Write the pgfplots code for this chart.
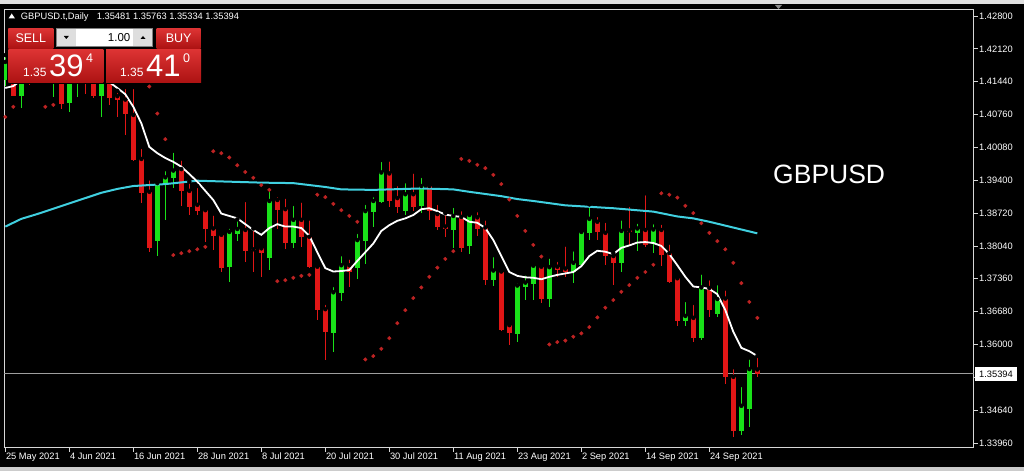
\documentclass[border=0pt]{standalone}
\usepackage{pgfplots}
\pgfplotsset{compat=1.18}
\usepackage{pgfplotstable}
\usepackage{fontspec}
\setmainfont{Liberation Sans}

\definecolor{bull}{RGB}{25,225,25}
\definecolor{bear}{RGB}{225,22,22}
\definecolor{sar}{RGB}{190,35,35}
\definecolor{macyan}{RGB}{64,208,224}
\definecolor{framec}{RGB}{215,215,215}
\definecolor{btntop}{RGB}{222,52,52}
\definecolor{btnbot}{RGB}{172,18,18}
\definecolor{ctrlgray}{RGB}{222,222,222}

% bearish candles: index, open, high, low, close
\pgfplotstableread{
i o h l c
1 1.4168 1.4189 1.4114 1.4115
3 1.4189 1.4214 1.4137 1.4158
5 1.4199 1.4241 1.4147 1.4168
7 1.4220 1.4241 1.4087 1.4098
10 1.4185 1.4210 1.4118 1.4152
11 1.4158 1.4178 1.4110 1.4115
13 1.4164 1.4185 1.4096 1.4110
14 1.4114 1.4125 1.4070 1.4106
15 1.4107 1.4133 1.4034 1.4077
16 1.4075 1.4133 1.3980 1.3982
17 1.3984 1.4009 1.3893 1.3914
18 1.3916 1.3944 1.3792 1.3799
22 1.3963 1.3985 1.3887 1.3918
23 1.3918 1.3937 1.3868 1.3885
24 1.3889 1.3928 1.3868 1.3877
25 1.3878 1.3882 1.3813 1.3839
26 1.3840 1.3871 1.3796 1.3825
27 1.3827 1.3831 1.3751 1.3759
30 1.3837 1.3899 1.3771 1.3794
31 1.3797 1.3840 1.3751 1.3795
32 1.3799 1.3802 1.3740 1.3789
34 1.3899 1.3909 1.3838 1.3878
35 1.3880 1.3906 1.3797 1.3809
37 1.3858 1.3898 1.3802 1.3823
38 1.3823 1.3861 1.3758 1.3761
39 1.3761 1.3764 1.3651 1.3671
40 1.3673 1.3686 1.3568 1.3626
43 1.3764 1.3780 1.3718 1.3751
48 1.3954 1.3983 1.3885 1.3896
49 1.3903 1.3932 1.3872 1.3884
51 1.3911 1.3958 1.3877 1.3885
53 1.3928 1.3932 1.3858 1.3877
54 1.3870 1.3893 1.3837 1.3843
55 1.3844 1.3872 1.3823 1.3839
57 1.3864 1.3880 1.3792 1.3799
59 1.3863 1.3878 1.3824 1.3839
60 1.3842 1.3861 1.3723 1.3733
62 1.3751 1.3758 1.3627 1.3629
63 1.3640 1.3644 1.3599 1.3623
67 1.3761 1.3769 1.3686 1.3695
69 1.3761 1.3775 1.3740 1.3754
70 1.3757 1.3807 1.3740 1.3751
74 1.3854 1.3868 1.3816 1.3833
75 1.3831 1.3856 1.3764 1.3783
76 1.3783 1.3789 1.3723 1.3768
78 1.3836 1.3889 1.3804 1.3832
80 1.3837 1.3913 1.3802 1.3805
82 1.3837 1.3852 1.3763 1.3786
83 1.3789 1.3811 1.3727 1.3730
84 1.3737 1.3744 1.3638 1.3649
86 1.3655 1.3686 1.3606 1.3614
88 1.3717 1.3737 1.3656 1.3671
90 1.3695 1.3716 1.3518 1.3532
91 1.3533 1.3553 1.3408 1.3421
94 1.35481 1.35763 1.35334 1.35394
}\beartab

% bullish candles: index, open, high, low, close
\pgfplotstableread{
i o h l c
0 1.4147 1.4199 1.4135 1.4185
2 1.4115 1.4193 1.4090 1.4172
4 1.4158 1.4230 1.4143 1.4199
6 1.4147 1.4251 1.4112 1.4220
8 1.4099 1.4189 1.4082 1.4168
9 1.4147 1.4205 1.4112 1.4178
12 1.4115 1.4189 1.4071 1.4164
19 1.3814 1.3937 1.3784 1.3934
20 1.3932 1.3963 1.3858 1.3946
21 1.3945 1.4001 1.3923 1.3960
28 1.3761 1.3844 1.3730 1.3833
29 1.3829 1.3859 1.3814 1.3839
33 1.3780 1.3920 1.3754 1.3897
36 1.3809 1.3891 1.3799 1.3858
41 1.3623 1.3723 1.3585 1.3708
42 1.3706 1.3787 1.3689 1.3764
44 1.3758 1.3833 1.3735 1.3816
45 1.3814 1.3893 1.3766 1.3876
46 1.3875 1.3909 1.3844 1.3897
47 1.3895 1.3982 1.3892 1.3956
50 1.3877 1.3938 1.3867 1.3911
52 1.3887 1.3949 1.3872 1.3928
56 1.3837 1.3887 1.3799 1.3866
58 1.3804 1.3875 1.3787 1.3868
61 1.3733 1.3785 1.3721 1.3753
64 1.3622 1.3731 1.3606 1.3722
65 1.3718 1.3747 1.3691 1.3728
66 1.3725 1.3769 1.3693 1.3763
68 1.3694 1.3782 1.3678 1.3760
71 1.3751 1.3797 1.3728 1.3769
72 1.3764 1.3840 1.3763 1.3833
73 1.3831 1.3890 1.3816 1.3860
77 1.3768 1.3861 1.3751 1.3835
79 1.3830 1.3854 1.3794 1.3840
81 1.3807 1.3853 1.3790 1.3838
85 1.3649 1.3692 1.3638 1.3659
87 1.3613 1.3749 1.3609 1.3718
89 1.3664 1.3727 1.3656 1.3694
92 1.3421 1.3516 1.3413 1.3473
93 1.3466 1.3573 1.3430 1.3549
}\bulltab

% Parabolic SAR
\pgfplotstableread{
i v
0 1.4071
1 1.4092
2 1.4251
3 1.4248
4 1.4245
5 1.4092
6 1.4096
7 1.4251
8 1.4248
9 1.4244
10 1.4240
11 1.4235
12 1.4229
13 1.4222
14 1.4213
15 1.4203
16 1.4190
17 1.4170
18 1.4134
19 1.4078
20 1.4025
21 1.3785
22 1.3789
23 1.3793
24 1.3797
25 1.3802
26 1.4000
27 1.3996
28 1.3987
29 1.3971
30 1.3957
31 1.3945
32 1.3930
33 1.3920
34 1.3731
35 1.3733
36 1.3738
37 1.3742
38 1.3744
39 1.3910
40 1.3905
41 1.3891
42 1.3878
43 1.3866
44 1.3854
45 1.3569
46 1.3576
47 1.3591
48 1.3613
49 1.3644
50 1.3671
51 1.3696
52 1.3718
53 1.3740
54 1.3759
55 1.3777
56 1.3793
57 1.3984
58 1.3980
59 1.3972
60 1.3965
61 1.3951
62 1.3932
63 1.3900
64 1.3866
65 1.3835
66 1.3806
67 1.3782
68 1.3600
69 1.3605
70 1.3608
71 1.3616
72 1.3623
73 1.3636
74 1.3656
75 1.3676
76 1.3692
77 1.3709
78 1.3723
79 1.3738
80 1.3750
81 1.3765
82 1.3913
83 1.3910
84 1.3904
85 1.3887
86 1.3872
87 1.3851
88 1.3831
89 1.3814
90 1.3797
91 1.3769
92 1.3727
93 1.3688
94 1.3655
}\sartab

% short moving average (white)
\pgfplotstableread{
i v
0 1.4131
1 1.4135
2 1.4147
3 1.4154
4 1.4160
5 1.4164
6 1.4168
7 1.4168
8 1.4168
9 1.4166
10 1.4164
11 1.4162
12 1.4156
13 1.4143
14 1.4131
15 1.4118
16 1.4092
17 1.4058
18 1.4009
19 1.3996
20 1.3986
21 1.3978
22 1.3968
23 1.3953
24 1.3937
25 1.3918
26 1.3899
27 1.3871
28 1.3866
29 1.3861
30 1.3849
31 1.3837
32 1.3827
33 1.3841
34 1.3849
35 1.3844
36 1.3844
37 1.3841
38 1.3825
39 1.3791
40 1.3758
41 1.3751
42 1.3752
43 1.3754
44 1.3773
45 1.3791
46 1.3809
47 1.3835
48 1.3847
49 1.3856
50 1.3861
51 1.3868
52 1.3880
53 1.3882
54 1.3876
55 1.3869
56 1.3866
57 1.3864
58 1.3854
59 1.3852
60 1.3841
61 1.3816
62 1.3783
63 1.3750
64 1.3742
65 1.3739
66 1.3738
67 1.3735
68 1.3740
69 1.3744
70 1.3747
71 1.3750
72 1.3762
73 1.3783
74 1.3794
75 1.3792
76 1.3787
77 1.3800
78 1.3805
79 1.3811
80 1.3812
81 1.3810
82 1.3804
83 1.3787
84 1.3764
85 1.3740
86 1.3720
87 1.3718
88 1.3715
89 1.3704
90 1.3671
91 1.3626
92 1.3593
93 1.3586
94 1.3576
}\matab

% long moving average (cyan)
\pgfplotstableread{
i v
0 1.3844
2 1.3860
4 1.3870
6 1.3881
8 1.3892
10 1.3903
12 1.3914
14 1.3922
16 1.3928
18 1.3930
20 1.3932
24 1.3939
28 1.3937
32 1.3935
36 1.3934
40 1.3926
42 1.3921
46 1.3920
52 1.3923
56 1.3921
58 1.3916
62 1.3907
64 1.3901
66 1.3897
70 1.3888
76 1.3882
81 1.3875
84 1.3865
86 1.3861
88 1.3854
91 1.3842
94 1.3830
}\lmatab

\newcommand{\tickfont}{\fontsize{9.3}{11}\selectfont}

\begin{document}
\begin{tikzpicture}
\useasboundingbox (0pt,0pt) rectangle (1024pt,471pt);
\fill[black] (0pt,0pt) rectangle (1024pt,471pt);
\fill[black!12] (0pt,466.5pt) rectangle (1024pt,471pt);
\fill[black!20] (0pt,0pt) rectangle (1024pt,4pt);

\begin{axis}[
  at={(4pt,23.5pt)}, anchor=south west,
  scale only axis, width=969.5pt, height=438.2pt,
  xmin=-0.1625, xmax=121.02,
  ymin=1.338667, ymax=1.429387,
  axis line style={framec, line width=0.8pt},
  tick align=outside, major tick length=4pt,
  tick style={framec, line width=0.7pt},
  xtick pos=left, ytick pos=right,
  yticklabel pos=right,
  xtick={0,8,16,24,32,40,48,56,64,72,80,88},
  xticklabels={25 May 2021,4 Jun 2021,16 Jun 2021,28 Jun 2021,8 Jul 2021,20 Jul 2021,30 Jul 2021,11 Aug 2021,23 Aug 2021,2 Sep 2021,14 Sep 2021,24 Sep 2021},
  ytick={1.3396,1.3464,1.3532,1.36,1.3668,1.3736,1.3804,1.3872,1.394,1.4008,1.4076,1.4144,1.4212,1.428},
  yticklabels={1.33960,1.34640,1.35320,1.36000,1.36680,1.37360,1.38040,1.38720,1.39400,1.40080,1.40760,1.41440,1.42120,1.42800},
  xticklabel style={anchor=north west, inner sep=0pt, xshift=0.5pt, yshift=-1pt, text=white, font=\tickfont},
  yticklabel style={anchor=west, inner sep=0pt, xshift=1.5pt, text=white, font=\tickfont},
  /pgf/number format/assume math mode=true,
  clip=true,
]
% bid line
\addplot[line width=0.6pt, color=black!38] coordinates {(-1,1.35394) (122,1.35394)};

% wicks
\addplot[only marks, mark=none, forget plot,
  error bars/.cd, y dir=minus, y explicit, error mark=none,
  error bar style={draw=bear, line width=1pt}]
  table[x=i, y=h, y error minus expr=\thisrow{h}-\thisrow{l}] {\beartab};
\addplot[only marks, mark=none, forget plot,
  error bars/.cd, y dir=minus, y explicit, error mark=none,
  error bar style={draw=bull, line width=1pt}]
  table[x=i, y=h, y error minus expr=\thisrow{h}-\thisrow{l}] {\bulltab};
% bodies
\addplot[only marks, mark=none, forget plot,
  error bars/.cd, y dir=minus, y explicit, error mark=none,
  error bar style={draw=bear, line width=5.5pt}]
  table[x=i, y=o, y error minus expr=\thisrow{o}-\thisrow{c}] {\beartab};
\addplot[only marks, mark=none, forget plot,
  error bars/.cd, y dir=minus, y explicit, error mark=none,
  error bar style={draw=bull, line width=5.5pt}]
  table[x=i, y=c, y error minus expr=\thisrow{c}-\thisrow{o}] {\bulltab};

% parabolic SAR
\addplot[only marks, mark=*, mark size=1.8pt, color=sar] table[x=i, y=v] {\sartab};
% moving averages
\addplot[no marks, color=macyan, line width=2pt] table[x=i, y=v] {\lmatab};
\addplot[no marks, color=white, line width=1.8pt] table[x=i, y=v] {\matab};
\end{axis}

% current price label
\fill[white] (975pt,90pt) rectangle (1017pt,104pt);
\node[anchor=center, inner sep=0pt, text=black, font=\tickfont] at (996pt,97pt) {1.35394};

% shift marker
\fill[black!45] (775pt,466pt) -- (782pt,466pt) -- (778.5pt,462pt) -- cycle;

% title line
\fill[white] (8.5pt,452.5pt) -- (15pt,452.5pt) -- (11.75pt,457.5pt) -- cycle;
\node[anchor=base west, inner sep=0pt, text=white, font=\fontsize{9.3}{11}\selectfont] at (20.7pt,451pt) {GBPUSD.t,Daily};
\node[anchor=base west, inner sep=0pt, text=white, font=\fontsize{9.3}{11}\selectfont] at (96.7pt,451pt) {1.35481 1.35763 1.35334 1.35394};

% trade panel
\fill[black] (7pt,387pt) rectangle (202pt,444pt);
\shade[top color=btntop, bottom color=btnbot] (8.3pt,422.5pt) rectangle (53.3pt,442.7pt);
\shade[top color=btntop, bottom color=btnbot] (156.7pt,422.5pt) rectangle (200.7pt,442.7pt);
\fill[ctrlgray] (56.7pt,424.3pt) rectangle (76pt,442.7pt);
\fill[white] (76pt,424.3pt) rectangle (133.3pt,442.7pt);
\fill[ctrlgray] (133.3pt,424.3pt) rectangle (152.7pt,442.7pt);
\draw[black!50, line width=0.5pt] (56.7pt,424.3pt) rectangle (152.7pt,442.7pt);
\fill[black] (63.8pt,435pt) -- (68.8pt,435pt) -- (66.3pt,432pt) -- cycle;
\fill[black] (140.5pt,432pt) -- (145.5pt,432pt) -- (143pt,435pt) -- cycle;
\node[anchor=base east, inner sep=0pt, text=black, font=\fontsize{11.5}{13}\selectfont] at (130.5pt,429pt) {1.00};
\node[anchor=base, inner sep=0pt, text=white, font=\fontsize{12.5}{14}\selectfont] at (30.8pt,428.5pt) {SELL};
\node[anchor=base, inner sep=0pt, text=white, font=\fontsize{12.5}{14}\selectfont] at (178.7pt,428.5pt) {BUY};
\shade[top color=btntop, bottom color=btnbot] (8.3pt,388.3pt) rectangle (103.3pt,421.7pt);
\shade[top color=btntop, bottom color=btnbot] (106pt,388.3pt) rectangle (201pt,421.7pt);
\node[anchor=base west, inner sep=0pt, text=white, font=\fontsize{12}{14}\selectfont] at (23pt,394.3pt) {1.35};
\node[anchor=base west, inner sep=0pt, text=white, font=\fontsize{31}{33}\selectfont] at (49pt,394.3pt) {39};
\node[anchor=base west, inner sep=0pt, text=white, font=\fontsize{12.5}{14}\selectfont] at (86pt,408pt) {4};
\node[anchor=base west, inner sep=0pt, text=white, font=\fontsize{12}{14}\selectfont] at (120pt,394.3pt) {1.35};
\node[anchor=base west, inner sep=0pt, text=white, font=\fontsize{31}{33}\selectfont] at (146pt,394.3pt) {41};
\node[anchor=base west, inner sep=0pt, text=white, font=\fontsize{12.5}{14}\selectfont] at (183pt,408pt) {0};

% symbol watermark
\node[anchor=base west, inner sep=0pt, text=white, font=\fontsize{26.5}{30}\selectfont] at (773pt,287pt) {GBPUSD};
\end{tikzpicture}
\end{document}
